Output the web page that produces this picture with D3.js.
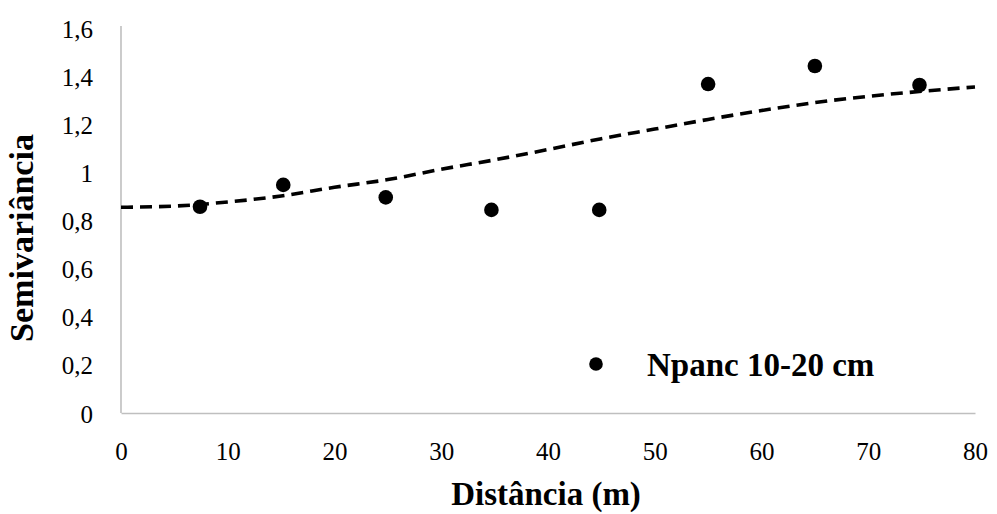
<!DOCTYPE html>
<html>
<head>
<meta charset="utf-8">
<script src="https://cdn.jsdelivr.net/npm/d3@7"></script>
<style>
html,body{margin:0;padding:0;background:#fff;}
svg{display:block;}
text{font-family:"Liberation Serif","Times New Roman",serif;fill:#000;}
</style>
</head>
<body>
<svg id="chart" width="997" height="514"></svg>
<script>
// Observed semivariance points
const distances = [7.4, 15.2, 24.8, 34.7, 44.8, 55.0, 65.0, 74.8];
const semivariance = [0.857, 0.948, 0.896, 0.844, 0.844, 1.367, 1.442, 1.363];
// Fitted model curve
const modelDist = [0, 5, 10, 15, 20, 25, 30, 35, 40, 45, 50, 55, 60, 65, 70, 75, 80];
const modelGamma = [0.855, 0.860, 0.877, 0.902, 0.938, 0.970, 1.013, 1.052, 1.095, 1.140, 1.180, 1.220, 1.257, 1.290, 1.316, 1.337, 1.355];
const xTicks = [0, 10, 20, 30, 40, 50, 60, 70, 80];
const yTicks = [0, 0.2, 0.4, 0.6, 0.8, 1.0, 1.2, 1.4, 1.6];
const seriesName = "Npanc 10-20 cm";
const xTitle = "Distância (m)";
const yTitle = "Semivariância";

const svg = d3.select("#chart");
const x = d3.scaleLinear().domain([0, 80]).range([121, 975]);
const y = d3.scaleLinear().domain([0, 1.6]).range([413, 28]);
const fmt = v => (v === 0 || v === 1) ? String(v) : d3.format(".1f")(v).replace(".", ",");

// Axes
const xAxis = svg.append("g").attr("transform", `translate(0,${y(0)})`)
  .call(d3.axisBottom(x).tickValues(xTicks).tickSize(0).tickPadding(0).tickFormat(d => d));
xAxis.select(".domain").attr("stroke", "#bfbfbf").attr("stroke-width", 1.6);
xAxis.selectAll("text").attr("y", 47).attr("dy", null)
  .style("font-size", "25px").style("font-family", "Liberation Serif");

const yAxis = svg.append("g").attr("transform", `translate(${x(0)},0)`)
  .call(d3.axisLeft(y).tickValues(yTicks).tickSize(0).tickPadding(0).tickFormat(fmt));
yAxis.select(".domain").attr("d", `M0,${y(1.6) - 2}V${y(0)}`).attr("stroke", "#bfbfbf").attr("stroke-width", 1.6);
yAxis.selectAll("text").attr("x", -28).attr("dy", "0.36em")
  .style("font-size", "25px").style("font-family", "Liberation Serif");

// Model curve
const line = d3.line().x(d => x(d[0])).y(d => y(d[1])).curve(d3.curveMonotoneX);
svg.append("path")
  .datum(modelDist.map((d, i) => [d, modelGamma[i]]))
  .attr("d", line)
  .attr("fill", "none")
  .attr("stroke", "#000")
  .attr("stroke-width", 3.6)
  .attr("stroke-dasharray", "12,7");

// Points
svg.append("g").selectAll("circle")
  .data(distances.map((d, i) => [d, semivariance[i]]))
  .join("circle")
  .attr("cx", d => x(d[0]))
  .attr("cy", d => y(d[1]))
  .attr("r", 7.3)
  .attr("fill", "#000");

// Legend
svg.append("circle").attr("cx", 596).attr("cy", 364).attr("r", 6.8).attr("fill", "#000");
svg.append("text").attr("x", 647).attr("y", 376)
  .style("font-size", "33px").style("font-weight", "bold")
  .text(seriesName);

// Titles
svg.append("text").attr("x", 546).attr("y", 505).attr("text-anchor", "middle")
  .style("font-size", "33px").style("font-weight", "bold").text(xTitle);
svg.append("text").attr("transform", "translate(33,238) rotate(-90)").attr("text-anchor", "middle")
  .style("font-size", "34px").style("font-weight", "bold").text(yTitle);
</script>
</body>
</html>
